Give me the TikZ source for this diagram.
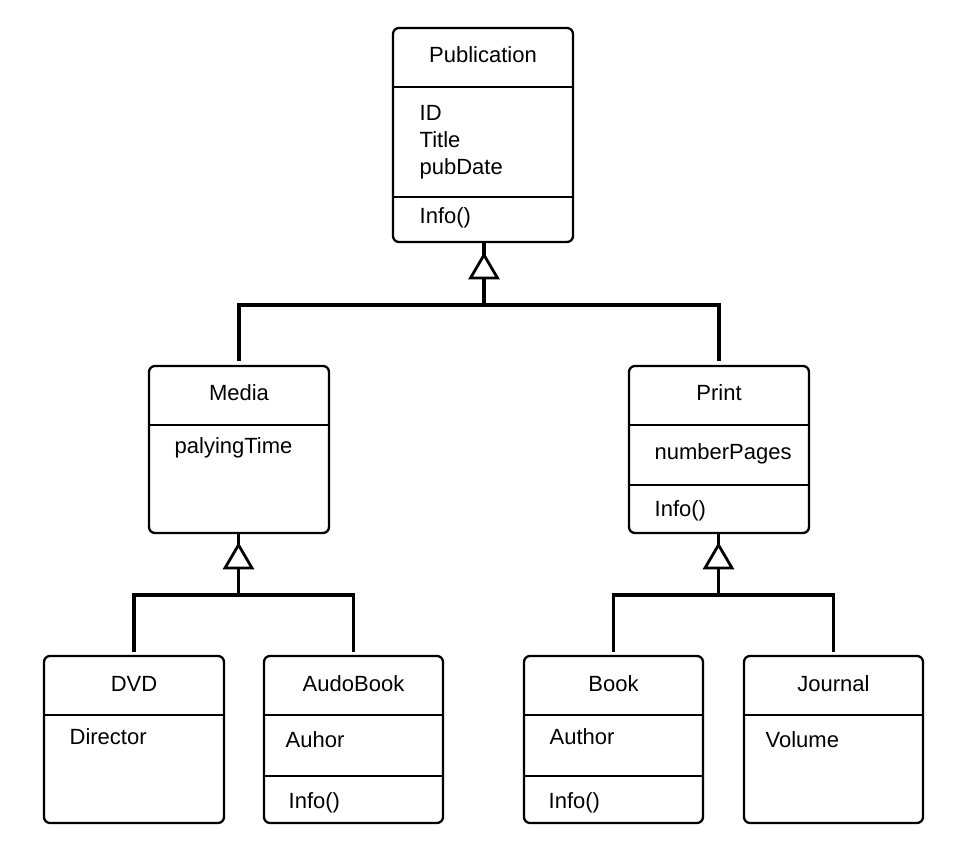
\documentclass[tikz,border=0pt]{standalone}
\usepackage{fontspec}
\setmainfont{Liberation Sans}
\begin{document}
\begin{tikzpicture}[x=1pt,y=-1pt,line width=2.3pt,
  cls/.style={draw, rounded corners=6pt, inner sep=0pt, minimum width=180pt},
  lbl/.style={inner sep=0pt, text height=15.7pt, text depth=0pt, font=\fontsize{22}{26}\selectfont},
  conn/.style={line width=3.3pt, line join=miter},
  tri/.style={draw, fill=white, line width=2.8pt, line join=miter}]
\useasboundingbox (0,0) rectangle (960,858);
% class boxes
\node[cls, minimum height=214pt] (pub) at (483,135) {};
\node[cls, minimum height=167pt] (media) at (239,449.5) {};
\node[cls, minimum height=167pt] (print) at (719,449.5) {};
\node[cls, minimum height=167pt] (dvd) at (134,739.5) {};
\node[cls, minimum height=167pt, minimum width=179pt] (audo) at (353.5,739.5) {};
\node[cls, minimum height=167pt, minimum width=179pt] (book) at (613.5,739.5) {};
\node[cls, minimum height=167pt, minimum width=179pt] (journal) at (833.5,739.5) {};
% dividers
\draw ([yshift=-60pt]pub.north west) -- ([yshift=-60pt]pub.north east);
\draw ([yshift=-170pt]pub.north west) -- ([yshift=-170pt]pub.north east);
\draw ([yshift=-60pt]media.north west) -- ([yshift=-60pt]media.north east);
\draw ([yshift=-60pt]print.north west) -- ([yshift=-60pt]print.north east);
\draw ([yshift=-120pt]print.north west) -- ([yshift=-120pt]print.north east);
\draw ([yshift=-60pt]dvd.north west) -- ([yshift=-60pt]dvd.north east);
\draw ([yshift=-60pt]audo.north west) -- ([yshift=-60pt]audo.north east);
\draw ([yshift=-121pt]audo.north west) -- ([yshift=-121pt]audo.north east);
\draw ([yshift=-60pt]book.north west) -- ([yshift=-60pt]book.north east);
\draw ([yshift=-121pt]book.north west) -- ([yshift=-121pt]book.north east);
\draw ([yshift=-60pt]journal.north west) -- ([yshift=-60pt]journal.north east);
% texts
\node[lbl] (pubT) at (483,55) {Publication};
\node[lbl, anchor=west] (pubA1) at (418.5,113) {ID};
\node[lbl, anchor=west] (pubA2) at (418.5,140) {Title};
\node[lbl, anchor=west] (pubA3) at (418.5,167) {pubDate};
\node[lbl, anchor=west] (pubM) at (418.5,216) {Info()};
\node[lbl] (mediaT) at (239,393) {Media};
\node[lbl, anchor=west] (mediaA) at (173.5,446) {palyingTime};
\node[lbl] (printT) at (719,393) {Print};
\node[lbl, anchor=west] (printA) at (653.5,452) {numberPages};
\node[lbl, anchor=west] (printM) at (653.5,509) {Info()};
\node[lbl] (dvdT) at (134,684) {DVD};
\node[lbl, anchor=west] (dvdA) at (68.5,737) {Director};
\node[lbl] (audoT) at (353.5,684) {AudoBook};
\node[lbl, anchor=west] (audoA) at (284.5,740) {Auhor};
\node[lbl, anchor=west] (audoM) at (287.5,801) {Info()};
\node[lbl] (bookT) at (613.5,684) {Book};
\node[lbl, anchor=west] (bookA) at (548.5,737) {Author};
\node[lbl, anchor=west] (bookM) at (547.5,801) {Info()};
\node[lbl] (journalT) at (833.5,684) {Journal};
\node[lbl, anchor=west] (journalA) at (764.5,740) {Volume};
% generalization: Publication
\coordinate (t1) at (484,255);
\coordinate (b1) at (484,278);
\coordinate (j1) at (484,305);
\draw[conn] (pub.south -| t1) -- (t1);
\draw[conn] ([yshift=4pt]media.north) |- (j1) -| ([yshift=4pt]print.north);
\draw[conn] (b1) -- (j1);
\draw[tri] (t1) -- ([xshift=-13.5pt]b1) -- ([xshift=13.5pt]b1) -- cycle;
% generalization: Media
\coordinate (t2) at (238.5,545);
\coordinate (b2) at (238.5,568);
\coordinate (j2) at (238.5,595);
\draw[conn] (media.south -| t2) -- (t2);
\draw[conn] ([yshift=3pt]dvd.north) |- (j2) -| ([yshift=3pt]audo.north);
\draw[conn] (b2) -- (j2);
\draw[tri] (t2) -- ([xshift=-13.5pt]b2) -- ([xshift=13.5pt]b2) -- cycle;
% generalization: Print
\coordinate (t3) at (718.5,545);
\coordinate (b3) at (718.5,568);
\coordinate (j3) at (718.5,595);
\draw[conn] (print.south -| t3) -- (t3);
\draw[conn] ([yshift=3pt]book.north) |- (j3) -| ([yshift=3pt]journal.north);
\draw[conn] (b3) -- (j3);
\draw[tri] (t3) -- ([xshift=-13.5pt]b3) -- ([xshift=13.5pt]b3) -- cycle;
\end{tikzpicture}
\end{document}
